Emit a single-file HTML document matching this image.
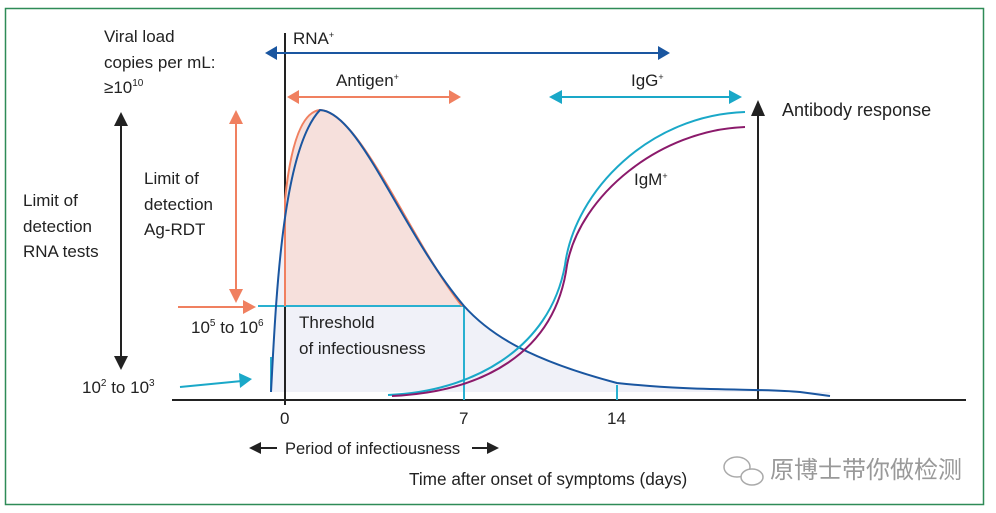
<!DOCTYPE html><html><head><meta charset="utf-8"><style>body{margin:0;background:#fff}svg{display:block}text{font-family:"Liberation Sans","Noto Sans CJK SC",sans-serif;fill:#222}</style></head><body>
<svg width="996" height="513" viewBox="0 0 996 513">
<rect x="5.5" y="8.5" width="978" height="496" fill="none" stroke="#2e8b57" stroke-width="1.5"/>
<path d="M271,392 C276,300 282,150 320,110 C360,112 400,230 464,306 C490,335 530,360 617,383 C700,392 760,390 830,394 L830,392 Z" fill="#f0f1f8"/>
<path d="M285,306 L285,200 C290,150 300,112 320,110 C360,112 410,240 462,306 Z" fill="#f6e0dc"/>
<line x1="172" y1="400" x2="966" y2="400" stroke="#222" stroke-width="2"/>
<line x1="285" y1="33" x2="285" y2="405" stroke="#222" stroke-width="2"/>
<line x1="758" y1="112" x2="758" y2="400" stroke="#222" stroke-width="2"/>
<path d="M751,116 L758,100 L765,116z" fill="#222"/>
<line x1="258" y1="306" x2="464" y2="306" stroke="#29b0d0" stroke-width="2"/>
<line x1="464" y1="306" x2="464" y2="400" stroke="#29b0d0" stroke-width="2"/>
<line x1="617" y1="385" x2="617" y2="400" stroke="#29b0d0" stroke-width="2"/>
<line x1="271" y1="357" x2="271" y2="392" stroke="#29b0d0" stroke-width="2"/>
<path d="M285,306 L285,200 C290,150 300,112 320,110 C360,112 410,240 462,306" fill="none" stroke="#f08060" stroke-width="2"/>
<path d="M271,392 C276,300 282,150 320,110 C360,112 400,230 464,306 C490,335 530,360 617,383 C700,392 760,388 800,392 L830,396" fill="none" stroke="#1a56a0" stroke-width="2"/>
<path d="M388,395 C470,392 550,350 565,265 C575,190 650,115 745,112" fill="none" stroke="#1aa8c8" stroke-width="2"/>
<path d="M392,396 C480,392 555,355 567,265 C580,195 660,130 745,127" fill="none" stroke="#8b1a6b" stroke-width="2"/>
<line x1="272" y1="53" x2="662" y2="53" stroke="#1a56a0" stroke-width="2"/>
<path d="M265,53 L277,46 L277,60z M670,53 L658,46 L658,60z" fill="#1a56a0"/>
<line x1="294" y1="97" x2="454" y2="97" stroke="#f08060" stroke-width="2"/>
<path d="M287,97 L299,90 L299,104z M461,97 L449,90 L449,104z" fill="#f08060"/>
<line x1="556" y1="97" x2="735" y2="97" stroke="#1aa8c8" stroke-width="2"/>
<path d="M549,97 L562,90 L562,104z M742,97 L729,90 L729,104z" fill="#1aa8c8"/>
<line x1="121" y1="122" x2="121" y2="360" stroke="#222" stroke-width="2"/>
<path d="M114,126 L121,112 L128,126z M114,356 L121,370 L128,356z" fill="#222"/>
<line x1="236" y1="120" x2="236" y2="293" stroke="#f08060" stroke-width="2"/>
<path d="M229,124 L236,110 L243,124z M229,289 L236,303 L243,289z" fill="#f08060"/>
<line x1="178" y1="307" x2="245" y2="307" stroke="#f08060" stroke-width="2"/>
<path d="M243,300 L256,307 L243,314z" fill="#f08060"/>
<line x1="180" y1="387" x2="242" y2="381" stroke="#1aa8c8" stroke-width="2"/>
<path d="M239,373 L252,379 L240,388z" fill="#1aa8c8"/>
<line x1="258" y1="448" x2="277" y2="448" stroke="#222" stroke-width="2"/>
<path d="M249,448 L261,442 L261,454z" fill="#222"/>
<line x1="472" y1="448" x2="490" y2="448" stroke="#222" stroke-width="2"/>
<path d="M499,448 L487,442 L487,454z" fill="#222"/>
<g font-size="17">
<text x="104" y="42">Viral load</text>
<text x="104" y="68">copies per mL:</text>
<text x="104" y="93">≥10<tspan font-size="10" dy="-7">10</tspan></text>
<text x="23" y="206">Limit of</text>
<text x="23" y="232">detection</text>
<text x="23" y="257">RNA tests</text>
<text x="144" y="184">Limit of</text>
<text x="144" y="210">detection</text>
<text x="144" y="235">Ag-RDT</text>
<text x="191" y="333">10<tspan font-size="10" dy="-7">5</tspan><tspan dy="7"> to 10</tspan><tspan font-size="10" dy="-7">6</tspan></text>
<text x="82" y="393">10<tspan font-size="10" dy="-7">2</tspan><tspan dy="7"> to 10</tspan><tspan font-size="10" dy="-7">3</tspan></text>
<text x="299" y="328">Threshold</text>
<text x="299" y="354">of infectiousness</text>
<text x="293" y="44">RNA<tspan font-size="9" dy="-6">+</tspan></text>
<text x="336" y="86">Antigen<tspan font-size="9" dy="-6">+</tspan></text>
<text x="631" y="86">IgG<tspan font-size="9" dy="-6">+</tspan></text>
<text x="634" y="185">IgM<tspan font-size="9" dy="-6">+</tspan></text>
<text x="782" y="116" font-size="18">Antibody response</text>
<text x="280" y="424">0</text>
<text x="459" y="424">7</text>
<text x="607" y="424">14</text>
<text x="285" y="454" font-size="16.5">Period of infectiousness</text>
<text x="409" y="485" font-size="17.2">Time after onset of symptoms (days)</text>
</g>
<text x="770" y="478" font-size="24" style="fill:#999">原博士带你做检测</text>
<ellipse cx="737" cy="467" rx="13" ry="10" fill="none" stroke="#aaa" stroke-width="1.5"/>
<ellipse cx="752" cy="477" rx="11" ry="8" fill="#fff" stroke="#aaa" stroke-width="1.5"/>
</svg></body></html>
